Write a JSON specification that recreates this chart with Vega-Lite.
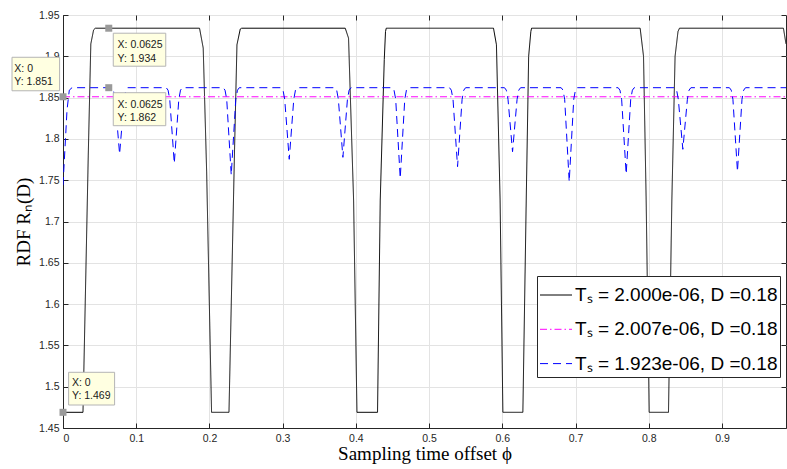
{
  "$schema": "https://vega.github.io/schema/vega-lite/v6.json",
  "width": 723,
  "height": 413,
  "autosize": {"type": "none"},
  "padding": {"left": 63, "top": 15, "right": 1, "bottom": 41},
  "background": "#ffffff",
  "config": {
    "view": {"stroke": "#262626", "strokeWidth": 1},
    "axis": {
      "domainColor": "#262626",
      "tickColor": "#262626",
      "labelColor": "#262626",
      "labelFont": "Liberation Sans",
      "labelFontSize": 10.5,
      "gridColor": "#e3e3e3",
      "gridWidth": 1,
      "tickSize": -5,
      "titleFont": "Liberation Serif",
      "titleFontSize": 19,
      "titleFontWeight": "normal",
      "titleColor": "#000000"
    },
    "legend": {
      "symbolType": "stroke",
      "symbolSize": 1024,
      "symbolStrokeWidth": 1,
      "labelFont": "Liberation Sans",
      "labelFontSize": 19,
      "labelColor": "#000000",
      "labelOffset": 2.5,
      "labelLimit": 400,
      "padding": 2.5,
      "rowPadding": 7.3
    }
  },
  "datasets": {
    "lines": [
      {"value": "Tₛ = 2.000e-06, D =0.18", "x": 0, "y": 1.469},
      {"value": "Tₛ = 2.000e-06, D =0.18", "x": 0.0273, "y": 1.469},
      {"value": "Tₛ = 2.000e-06, D =0.18", "x": 0.0345, "y": 1.78},
      {"value": "Tₛ = 2.000e-06, D =0.18", "x": 0.038, "y": 1.915},
      {"value": "Tₛ = 2.000e-06, D =0.18", "x": 0.0418, "y": 1.932},
      {"value": "Tₛ = 2.000e-06, D =0.18", "x": 0.0441, "y": 1.934},
      {"value": "Tₛ = 2.000e-06, D =0.18", "x": 0.1865, "y": 1.934},
      {"value": "Tₛ = 2.000e-06, D =0.18", "x": 0.1915, "y": 1.91},
      {"value": "Tₛ = 2.000e-06, D =0.18", "x": 0.1962, "y": 1.76},
      {"value": "Tₛ = 2.000e-06, D =0.18", "x": 0.2029, "y": 1.469},
      {"value": "Tₛ = 2.000e-06, D =0.18", "x": 0.2267, "y": 1.469},
      {"value": "Tₛ = 2.000e-06, D =0.18", "x": 0.2343, "y": 1.787},
      {"value": "Tₛ = 2.000e-06, D =0.18", "x": 0.2376, "y": 1.914},
      {"value": "Tₛ = 2.000e-06, D =0.18", "x": 0.2421, "y": 1.933},
      {"value": "Tₛ = 2.000e-06, D =0.18", "x": 0.244, "y": 1.934},
      {"value": "Tₛ = 2.000e-06, D =0.18", "x": 0.3855, "y": 1.934},
      {"value": "Tₛ = 2.000e-06, D =0.18", "x": 0.39, "y": 1.922},
      {"value": "Tₛ = 2.000e-06, D =0.18", "x": 0.3969, "y": 1.726},
      {"value": "Tₛ = 2.000e-06, D =0.18", "x": 0.4015, "y": 1.469},
      {"value": "Tₛ = 2.000e-06, D =0.18", "x": 0.4296, "y": 1.469},
      {"value": "Tₛ = 2.000e-06, D =0.18", "x": 0.4333, "y": 1.726},
      {"value": "Tₛ = 2.000e-06, D =0.18", "x": 0.4388, "y": 1.896},
      {"value": "Tₛ = 2.000e-06, D =0.18", "x": 0.4405, "y": 1.93},
      {"value": "Tₛ = 2.000e-06, D =0.18", "x": 0.4415, "y": 1.934},
      {"value": "Tₛ = 2.000e-06, D =0.18", "x": 0.588, "y": 1.934},
      {"value": "Tₛ = 2.000e-06, D =0.18", "x": 0.592, "y": 1.914},
      {"value": "Tₛ = 2.000e-06, D =0.18", "x": 0.597, "y": 1.726},
      {"value": "Tₛ = 2.000e-06, D =0.18", "x": 0.6008, "y": 1.469},
      {"value": "Tₛ = 2.000e-06, D =0.18", "x": 0.6281, "y": 1.469},
      {"value": "Tₛ = 2.000e-06, D =0.18", "x": 0.6327, "y": 1.726},
      {"value": "Tₛ = 2.000e-06, D =0.18", "x": 0.636, "y": 1.9},
      {"value": "Tₛ = 2.000e-06, D =0.18", "x": 0.639, "y": 1.93},
      {"value": "Tₛ = 2.000e-06, D =0.18", "x": 0.64, "y": 1.934},
      {"value": "Tₛ = 2.000e-06, D =0.18", "x": 0.7883, "y": 1.934},
      {"value": "Tₛ = 2.000e-06, D =0.18", "x": 0.7929, "y": 1.9},
      {"value": "Tₛ = 2.000e-06, D =0.18", "x": 0.7965, "y": 1.726},
      {"value": "Tₛ = 2.000e-06, D =0.18", "x": 0.8006, "y": 1.469},
      {"value": "Tₛ = 2.000e-06, D =0.18", "x": 0.827, "y": 1.469},
      {"value": "Tₛ = 2.000e-06, D =0.18", "x": 0.8316, "y": 1.726},
      {"value": "Tₛ = 2.000e-06, D =0.18", "x": 0.836, "y": 1.9},
      {"value": "Tₛ = 2.000e-06, D =0.18", "x": 0.84, "y": 1.93},
      {"value": "Tₛ = 2.000e-06, D =0.18", "x": 0.842, "y": 1.934},
      {"value": "Tₛ = 2.000e-06, D =0.18", "x": 0.984, "y": 1.934},
      {"value": "Tₛ = 2.000e-06, D =0.18", "x": 0.9875, "y": 1.915},
      {"value": "Tₛ = 2.007e-06, D =0.18", "x": 0, "y": 1.851},
      {"value": "Tₛ = 2.007e-06, D =0.18", "x": 0.9875, "y": 1.851},
      {"value": "Tₛ = 1.923e-06, D =0.18", "x": 0, "y": 1.744},
      {"value": "Tₛ = 1.923e-06, D =0.18", "x": 0.0055, "y": 1.835},
      {"value": "Tₛ = 1.923e-06, D =0.18", "x": 0.0086, "y": 1.859},
      {"value": "Tₛ = 1.923e-06, D =0.18", "x": 0.0123, "y": 1.862},
      {"value": "Tₛ = 1.923e-06, D =0.18", "x": 0.0663, "y": 1.862},
      {"value": "Tₛ = 1.923e-06, D =0.18", "x": 0.0688, "y": 1.859},
      {"value": "Tₛ = 1.923e-06, D =0.18", "x": 0.0711, "y": 1.848},
      {"value": "Tₛ = 1.923e-06, D =0.18", "x": 0.0773, "y": 1.7817},
      {"value": "Tₛ = 1.923e-06, D =0.18", "x": 0.0835, "y": 1.848},
      {"value": "Tₛ = 1.923e-06, D =0.18", "x": 0.0858, "y": 1.859},
      {"value": "Tₛ = 1.923e-06, D =0.18", "x": 0.0883, "y": 1.862},
      {"value": "Tₛ = 1.923e-06, D =0.18", "x": 0.141, "y": 1.862},
      {"value": "Tₛ = 1.923e-06, D =0.18", "x": 0.1435, "y": 1.859},
      {"value": "Tₛ = 1.923e-06, D =0.18", "x": 0.1458, "y": 1.848},
      {"value": "Tₛ = 1.923e-06, D =0.18", "x": 0.152, "y": 1.7704},
      {"value": "Tₛ = 1.923e-06, D =0.18", "x": 0.1582, "y": 1.848},
      {"value": "Tₛ = 1.923e-06, D =0.18", "x": 0.1605, "y": 1.859},
      {"value": "Tₛ = 1.923e-06, D =0.18", "x": 0.163, "y": 1.862},
      {"value": "Tₛ = 1.923e-06, D =0.18", "x": 0.2188, "y": 1.862},
      {"value": "Tₛ = 1.923e-06, D =0.18", "x": 0.2213, "y": 1.859},
      {"value": "Tₛ = 1.923e-06, D =0.18", "x": 0.2236, "y": 1.848},
      {"value": "Tₛ = 1.923e-06, D =0.18", "x": 0.2298, "y": 1.7563},
      {"value": "Tₛ = 1.923e-06, D =0.18", "x": 0.236, "y": 1.848},
      {"value": "Tₛ = 1.923e-06, D =0.18", "x": 0.2383, "y": 1.859},
      {"value": "Tₛ = 1.923e-06, D =0.18", "x": 0.2408, "y": 1.862},
      {"value": "Tₛ = 1.923e-06, D =0.18", "x": 0.298, "y": 1.862},
      {"value": "Tₛ = 1.923e-06, D =0.18", "x": 0.3005, "y": 1.859},
      {"value": "Tₛ = 1.923e-06, D =0.18", "x": 0.3028, "y": 1.848},
      {"value": "Tₛ = 1.923e-06, D =0.18", "x": 0.309, "y": 1.7753},
      {"value": "Tₛ = 1.923e-06, D =0.18", "x": 0.3152, "y": 1.848},
      {"value": "Tₛ = 1.923e-06, D =0.18", "x": 0.3175, "y": 1.859},
      {"value": "Tₛ = 1.923e-06, D =0.18", "x": 0.32, "y": 1.862},
      {"value": "Tₛ = 1.923e-06, D =0.18", "x": 0.3713, "y": 1.862},
      {"value": "Tₛ = 1.923e-06, D =0.18", "x": 0.3738, "y": 1.859},
      {"value": "Tₛ = 1.923e-06, D =0.18", "x": 0.3761, "y": 1.848},
      {"value": "Tₛ = 1.923e-06, D =0.18", "x": 0.3823, "y": 1.7777},
      {"value": "Tₛ = 1.923e-06, D =0.18", "x": 0.3885, "y": 1.848},
      {"value": "Tₛ = 1.923e-06, D =0.18", "x": 0.3908, "y": 1.859},
      {"value": "Tₛ = 1.923e-06, D =0.18", "x": 0.3933, "y": 1.862},
      {"value": "Tₛ = 1.923e-06, D =0.18", "x": 0.4496, "y": 1.862},
      {"value": "Tₛ = 1.923e-06, D =0.18", "x": 0.4521, "y": 1.859},
      {"value": "Tₛ = 1.923e-06, D =0.18", "x": 0.4544, "y": 1.848},
      {"value": "Tₛ = 1.923e-06, D =0.18", "x": 0.4606, "y": 1.7523},
      {"value": "Tₛ = 1.923e-06, D =0.18", "x": 0.4668, "y": 1.848},
      {"value": "Tₛ = 1.923e-06, D =0.18", "x": 0.4691, "y": 1.859},
      {"value": "Tₛ = 1.923e-06, D =0.18", "x": 0.4716, "y": 1.862},
      {"value": "Tₛ = 1.923e-06, D =0.18", "x": 0.5279, "y": 1.862},
      {"value": "Tₛ = 1.923e-06, D =0.18", "x": 0.5304, "y": 1.859},
      {"value": "Tₛ = 1.923e-06, D =0.18", "x": 0.5327, "y": 1.848},
      {"value": "Tₛ = 1.923e-06, D =0.18", "x": 0.5389, "y": 1.7664},
      {"value": "Tₛ = 1.923e-06, D =0.18", "x": 0.5451, "y": 1.848},
      {"value": "Tₛ = 1.923e-06, D =0.18", "x": 0.5474, "y": 1.859},
      {"value": "Tₛ = 1.923e-06, D =0.18", "x": 0.5499, "y": 1.862},
      {"value": "Tₛ = 1.923e-06, D =0.18", "x": 0.603, "y": 1.862},
      {"value": "Tₛ = 1.923e-06, D =0.18", "x": 0.6055, "y": 1.859},
      {"value": "Tₛ = 1.923e-06, D =0.18", "x": 0.6078, "y": 1.848},
      {"value": "Tₛ = 1.923e-06, D =0.18", "x": 0.614, "y": 1.7845},
      {"value": "Tₛ = 1.923e-06, D =0.18", "x": 0.6202, "y": 1.848},
      {"value": "Tₛ = 1.923e-06, D =0.18", "x": 0.6225, "y": 1.859},
      {"value": "Tₛ = 1.923e-06, D =0.18", "x": 0.625, "y": 1.862},
      {"value": "Tₛ = 1.923e-06, D =0.18", "x": 0.6804, "y": 1.862},
      {"value": "Tₛ = 1.923e-06, D =0.18", "x": 0.6829, "y": 1.859},
      {"value": "Tₛ = 1.923e-06, D =0.18", "x": 0.6852, "y": 1.848},
      {"value": "Tₛ = 1.923e-06, D =0.18", "x": 0.6914, "y": 1.7482},
      {"value": "Tₛ = 1.923e-06, D =0.18", "x": 0.6976, "y": 1.848},
      {"value": "Tₛ = 1.923e-06, D =0.18", "x": 0.6999, "y": 1.859},
      {"value": "Tₛ = 1.923e-06, D =0.18", "x": 0.7024, "y": 1.862},
      {"value": "Tₛ = 1.923e-06, D =0.18", "x": 0.7582, "y": 1.862},
      {"value": "Tₛ = 1.923e-06, D =0.18", "x": 0.7607, "y": 1.859},
      {"value": "Tₛ = 1.923e-06, D =0.18", "x": 0.763, "y": 1.848},
      {"value": "Tₛ = 1.923e-06, D =0.18", "x": 0.7692, "y": 1.7575},
      {"value": "Tₛ = 1.923e-06, D =0.18", "x": 0.7754, "y": 1.848},
      {"value": "Tₛ = 1.923e-06, D =0.18", "x": 0.7777, "y": 1.859},
      {"value": "Tₛ = 1.923e-06, D =0.18", "x": 0.7802, "y": 1.862},
      {"value": "Tₛ = 1.923e-06, D =0.18", "x": 0.8356, "y": 1.862},
      {"value": "Tₛ = 1.923e-06, D =0.18", "x": 0.8381, "y": 1.859},
      {"value": "Tₛ = 1.923e-06, D =0.18", "x": 0.8404, "y": 1.848},
      {"value": "Tₛ = 1.923e-06, D =0.18", "x": 0.8466, "y": 1.7874},
      {"value": "Tₛ = 1.923e-06, D =0.18", "x": 0.8528, "y": 1.848},
      {"value": "Tₛ = 1.923e-06, D =0.18", "x": 0.8551, "y": 1.859},
      {"value": "Tₛ = 1.923e-06, D =0.18", "x": 0.8576, "y": 1.862},
      {"value": "Tₛ = 1.923e-06, D =0.18", "x": 0.9102, "y": 1.862},
      {"value": "Tₛ = 1.923e-06, D =0.18", "x": 0.9127, "y": 1.859},
      {"value": "Tₛ = 1.923e-06, D =0.18", "x": 0.915, "y": 1.848},
      {"value": "Tₛ = 1.923e-06, D =0.18", "x": 0.9212, "y": 1.7605},
      {"value": "Tₛ = 1.923e-06, D =0.18", "x": 0.9274, "y": 1.848},
      {"value": "Tₛ = 1.923e-06, D =0.18", "x": 0.9297, "y": 1.859},
      {"value": "Tₛ = 1.923e-06, D =0.18", "x": 0.9322, "y": 1.862},
      {"value": "Tₛ = 1.923e-06, D =0.18", "x": 0.9875, "y": 1.862}
    ],
    "tipsRightBelow": [
      {"x": 0.0625, "y": 1.934, "label": "X: 0.0625\nY: 1.934"},
      {"x": 0.0625, "y": 1.862, "label": "X: 0.0625\nY: 1.862"}
    ],
    "tipsLeftAbove": [
      {"x": 0, "y": 1.851, "label": "X: 0\nY: 1.851"}
    ],
    "tipsRightAbove": [
      {"x": 0, "y": 1.469, "label": "X: 0\nY: 1.469"}
    ],
    "tipPoints": [
      {"x": 0.0625, "y": 1.934},
      {"x": 0.0625, "y": 1.862},
      {"x": 0, "y": 1.851},
      {"x": 0, "y": 1.469}
    ]
  },
  "resolve": {"axis": {"x": "independent", "y": "independent"}},
  "layer": [
    {
      "encoding": {
        "x": {
          "field": "x", "type": "quantitative",
          "scale": {"domain": [0, 0.9875], "nice": false, "zero": false},
          "axis": {
            "orient": "bottom",
            "title": "Sampling time offset ϕ",
            "values": [0, 0.1, 0.2, 0.3, 0.4, 0.5, 0.6, 0.7, 0.8, 0.9],
            "format": "~g",
            "grid": true,
            "labelPadding": 10,
            "titlePadding": 1
          }
        },
        "y": {
          "field": "y", "type": "quantitative",
          "scale": {"domain": [1.45, 1.95], "nice": false, "zero": false},
          "axis": {
            "orient": "left",
            "title": "RDF Rₙ(D)",
            "values": [1.45, 1.5, 1.55, 1.6, 1.65, 1.7, 1.75, 1.8, 1.85, 1.9, 1.95],
            "format": "~g",
            "grid": true,
            "labelPadding": 9,
            "titlePadding": 5
          }
        }
      },
      "layer": [
        {
          "data": {"name": "lines"},
          "mark": {"type": "line", "strokeWidth": 1, "clip": true},
          "encoding": {
            "stroke": {
              "field": "value", "type": "nominal",
              "scale": {
                "domain": ["Tₛ = 2.000e-06, D =0.18", "Tₛ = 2.007e-06, D =0.18", "Tₛ = 1.923e-06, D =0.18"],
                "range": ["#000000", "#ff00ff", "#0000ff"]
              },
              "legend": {
                "title": null, "orient": "none", "legendX": 474, "legendY": 261,
                "strokeColor": "#262626", "fillColor": "#ffffff"
              }
            },
            "strokeDash": {
              "field": "value", "type": "nominal",
              "scale": {
                "domain": ["Tₛ = 2.000e-06, D =0.18", "Tₛ = 2.007e-06, D =0.18", "Tₛ = 1.923e-06, D =0.18"],
                "range": [[1, 0], [7, 3, 1.5, 3], [8, 5]]
              },
              "legend": {
                "title": null, "orient": "none", "legendX": 474, "legendY": 261,
                "strokeColor": "#262626", "fillColor": "#ffffff"
              }
            }
          }
        },
        {
          "data": {"name": "tipsRightBelow"},
          "mark": {"type": "point", "shape": "M4.5,5H57V38H4.5Z", "size": 4, "filled": true, "fill": "#ffffe1", "stroke": "#b4b4b4", "strokeWidth": 1, "opacity": 1}
        },
        {
          "data": {"name": "tipsLeftAbove"},
          "mark": {"type": "point", "shape": "M-51,-39.5H-3.4V-6H-51Z", "size": 4, "filled": true, "fill": "#ffffe1", "stroke": "#b4b4b4", "strokeWidth": 1, "opacity": 1}
        },
        {
          "data": {"name": "tipsRightAbove"},
          "mark": {"type": "point", "shape": "M5.6,-40H51.6V-7.3H5.6Z", "size": 4, "filled": true, "fill": "#ffffe1", "stroke": "#b4b4b4", "strokeWidth": 1, "opacity": 1}
        },
        {
          "data": {"name": "tipsRightBelow"},
          "mark": {"type": "text", "align": "left", "baseline": "alphabetic", "dx": 8.8, "dy": 20, "font": "Liberation Sans", "fontSize": 10.5, "lineHeight": 13.3, "lineBreak": "\n", "color": "#1a1a1a"},
          "encoding": {"text": {"field": "label"}}
        },
        {
          "data": {"name": "tipsLeftAbove"},
          "mark": {"type": "text", "align": "left", "baseline": "alphabetic", "dx": -48.7, "dy": -24.7, "font": "Liberation Sans", "fontSize": 10.5, "lineHeight": 13.3, "lineBreak": "\n", "color": "#1a1a1a"},
          "encoding": {"text": {"field": "label"}}
        },
        {
          "data": {"name": "tipsRightAbove"},
          "mark": {"type": "text", "align": "left", "baseline": "alphabetic", "dx": 9, "dy": -26.2, "font": "Liberation Sans", "fontSize": 10.5, "lineHeight": 13.3, "lineBreak": "\n", "color": "#1a1a1a"},
          "encoding": {"text": {"field": "label"}}
        },
        {
          "data": {"name": "tipPoints"},
          "mark": {"type": "point", "shape": "square", "size": 49, "filled": true, "color": "#9a9a9a", "opacity": 1}
        }
      ]
    },
    {
      "data": {"name": "tipPoints"},
      "mark": {"type": "point", "opacity": 0},
      "encoding": {
        "x": {
          "field": "x", "type": "quantitative",
          "axis": {
            "orient": "top", "title": null, "labels": false, "grid": false, "domain": false,
            "values": [0, 0.1, 0.2, 0.3, 0.4, 0.5, 0.6, 0.7, 0.8, 0.9]
          }
        },
        "y": {
          "field": "y", "type": "quantitative",
          "axis": {
            "orient": "right", "title": null, "labels": false, "grid": false, "domain": false,
            "values": [1.45, 1.5, 1.55, 1.6, 1.65, 1.7, 1.75, 1.8, 1.85, 1.9, 1.95]
          }
        }
      }
    }
  ]
}
